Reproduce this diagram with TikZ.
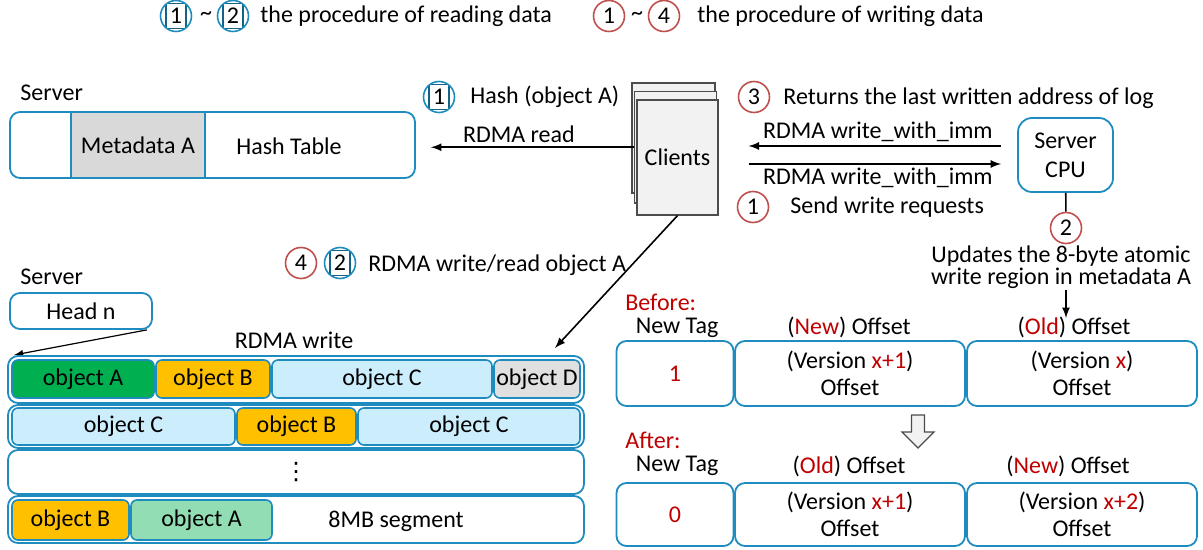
\documentclass[tikz,border=0pt]{standalone}
\usepackage{fontspec}
\setmainfont{Carlito}
\newfontfamily\symfont{DejaVu Sans}
\usepackage{tikz}
\usetikzlibrary{arrows,positioning}
\definecolor{boxblue}{RGB}{30,140,190}
\definecolor{markred}{RGB}{192,80,77}
\definecolor{txtred}{RGB}{192,0,0}
\definecolor{objgreen}{RGB}{0,176,80}
\definecolor{objorange}{RGB}{255,192,0}
\definecolor{objcyan}{RGB}{204,238,252}
\definecolor{objgray}{RGB}{224,224,224}
\definecolor{objmint}{RGB}{146,221,179}
\tikzstyle{box}=[draw=boxblue,line width=0.9pt,rounded corners=5pt,inner sep=0pt,align=center]
\tikzstyle{obj}=[draw=boxblue,line width=0.8pt,rounded corners=3pt,inner sep=0pt]
\tikzstyle{redmark}=[draw=markred,circle,line width=0.8pt,minimum size=15.5pt,inner sep=0pt]
\tikzstyle{bluemark}=[draw=boxblue,circle,line width=0.8pt,minimum size=15.5pt,inner sep=0pt,
  path picture={\draw[boxblue!70!black,line width=0.6pt] ([xshift=-5pt,yshift=-6.25pt]path picture bounding box.center) rectangle ++(10pt,12.5pt);}]
\tikzstyle{paper}=[draw=black!70,fill=black!5,line width=0.6pt,inner sep=0pt]
\tikzstyle{arr}=[-latex,line width=0.8pt]
\tikzstyle{lbl}=[inner sep=0pt]

\begin{document}
\begin{tikzpicture}[x=0.5pt,y=-0.5pt,font=\fontsize{12}{13.5}\selectfont]
\useasboundingbox (0,0) rectangle (1203,550);

% legend
\node [bluemark] (lgb1) at (176,16) {1};
\node [lbl] (lgt1) at (206,16) {\textasciitilde};
\node [bluemark] (lgb2) at (233,16) {2};
\node [lbl,anchor=west] (lgread) at (260,16) {the procedure of reading data};
\node [redmark] (lgr1) at (609,16) {1};
\node [lbl] (lgt2) at (637,16) {\textasciitilde};
\node [redmark] (lgr4) at (664,16) {4};
\node [lbl,anchor=west] (lgwrite) at (697,16) {the procedure of writing data};

% hash table
\node [lbl,anchor=west] (srv1) at (20,93) {Server};
\node [box,minimum width=202.5pt,minimum height=33pt] (hashtbl) at (212.5,145) {};
\node [draw=boxblue,line width=0.9pt,fill=black!15,minimum width=67pt,minimum height=33pt] (meta) at (138,145) {Metadata A};
\node [lbl] (hashtxt) at (289,146) {Hash Table};

% clients
\node [paper,minimum width=41.5pt,minimum height=55pt] (clientsb) at (673.5,138) {};
\node [paper,minimum width=41pt,minimum height=55.75pt] (clientsm) at (675.5,147.25) {};
\node [paper,minimum width=40.5pt,minimum height=57.5pt] (clientsf) at (677.5,157.5) {Clients};

\node [bluemark] (hb1) at (439,97) {1};
\node [lbl,anchor=west] (hashobj) at (470,97) {Hash (object A)};
\draw [arr,shorten >=7.5pt] (clientsm.west) -- (clientsm.west -| hashtbl.east)
  node [midway,above=2pt,lbl,xshift=-3pt] (rdread) {RDMA read};

% server cpu
\node [box,rounded corners=7pt,minimum width=47.5pt,minimum height=37pt] (cpu) at (1065.5,155) {Server\\[1pt]CPU};
\node [redmark] (r3) at (754,97) {3};
\node [lbl,anchor=west] (ret) at (783,98) {Returns the last written address of log};
\draw [arr,shorten <=8pt,shorten >=15pt] ([yshift=4.5pt]cpu.west) -- ([yshift=4.5pt]cpu.west -| clientsf.east)
  node [midway,above=1.5pt,lbl,xshift=5pt] (wimm1) {RDMA write\_with\_imm};
\draw [arr,shorten <=15pt,shorten >=8pt] ([yshift=-4.5pt]cpu.west -| clientsf.east) -- ([yshift=-4.5pt]cpu.west)
  node [midway,below=1.5pt,lbl,xshift=5pt] (wimm2) {RDMA write\_with\_imm};
\node [redmark] (r1) at (753,207) {1};
\node [lbl,anchor=west] (send) at (790,207) {Send write requests};

\node [redmark] (r2) at (1066,228) {2};
\draw [line width=0.8pt] (cpu) -- (r2);
\node [lbl,align=center,font=\fontsize{12}{11}\selectfont] (upd) at (1061,267) {Updates the 8-byte atomic\\write region in metadata A};
\coordinate (updtip) at (1066,318);
\draw [arr] (1066,290) -- (updtip);

% log segments
\node [lbl,anchor=west] (srv2) at (20,277) {Server};
\node [box,minimum width=71pt,minimum height=18pt] (head) at (81,311) {Head n};
\coordinate (headtip) at (14,355);
\draw [-latex,line width=0.6pt] ([xshift=-3pt]head.south east) -- (headtip);
\node [lbl] (rdwrite) at (294,340) {RDMA write};

\node [redmark] (r4) at (301,263) {4};
\node [bluemark] (b2) at (340,263) {2};
\node [lbl,anchor=west] (wrobj) at (368,265) {RDMA write/read object A};

\node [box,minimum width=288pt,minimum height=23.5pt] (row1) at (296,379.5) {};
\node [box,minimum width=288pt,minimum height=21.5pt] (row2) at (296,426.5) {};
\node [box,minimum width=288pt,minimum height=22pt] (row3) at (296,472) {{\symfont ⋮}};
\node [box,minimum width=288pt,minimum height=23.5pt] (row4) at (296,519.5) {};

\node [obj,fill=objgreen,minimum width=71pt,minimum height=19pt] (oa1) at (83,379) {object A};
\node [obj,fill=objorange,minimum width=57pt,minimum height=19pt] (ob1) at (213,379) {object B};
\node [obj,fill=objcyan,minimum width=110pt,minimum height=19pt] (oc1) at (382,379) {object C};
\node [obj,fill=objgray,minimum width=43pt,minimum height=19pt] (od1) at (537,379) {object D};

\node [obj,fill=objcyan,minimum width=111.5pt,minimum height=18.5pt] (oc2) at (123.5,426.5) {object C};
\node [obj,fill=objorange,minimum width=59.5pt,minimum height=18.5pt] (ob2) at (296.5,426.5) {object B};
\node [obj,fill=objcyan,minimum width=111pt,minimum height=18.5pt] (oc3) at (469,426.5) {object C};

\node [obj,fill=objorange,minimum width=58.5pt,minimum height=20pt] (ob4) at (70.5,520) {object B};
\node [obj,fill=objmint,minimum width=70.5pt,minimum height=20pt] (oa4) at (201.5,520) {object A};
\node [lbl] (seg) at (396,521) {8MB segment};

\coordinate (segtip) at (555,348);
\draw [arr] (clientsf.south) -- (segtip);

% metadata before / after
\node [lbl,anchor=west,text=txtred] (before) at (625,302) {Before:};
\node [lbl] (bt1) at (677,328) {New Tag};
\node [lbl] (bt2) at (849,327) {(\textcolor{txtred}{New}) Offset};
\node [lbl] (bt3) at (1074,327) {(\textcolor{txtred}{Old}) Offset};
\node [box,minimum width=58.5pt,minimum height=32.5pt] (bb1) at (675,373.5) {\textcolor{txtred}{1}};
\node [box,minimum width=115pt,minimum height=32.5pt] (bb2) at (850,373.5) {(Version \textcolor{txtred}{x+1})\\Offset};
\node [box,minimum width=115pt,minimum height=32.5pt] (bb3) at (1082,373.5) {(Version \textcolor{txtred}{x})\\Offset};

\draw [draw=black!70,fill=black!5,line width=0.6pt] (911.5,415) -- (924.5,415) -- (924.5,432) -- (934,432)
  -- (918,448) -- (902,432) -- (911.5,432) -- cycle;

\node [lbl,anchor=west,text=txtred] (after) at (625,440) {After:};
\node [lbl] (at1) at (677,466) {New Tag};
\node [lbl] (at2) at (849,466) {(\textcolor{txtred}{Old}) Offset};
\node [lbl] (at3) at (1068,466) {(\textcolor{txtred}{New}) Offset};
\node [box,minimum width=58.5pt,minimum height=31.5pt] (ab1) at (675,514.5) {\textcolor{txtred}{0}};
\node [box,minimum width=115pt,minimum height=31.5pt] (ab2) at (850,514.5) {(Version \textcolor{txtred}{x+1})\\Offset};
\node [box,minimum width=115pt,minimum height=31.5pt] (ab3) at (1082,514.5) {(Version \textcolor{txtred}{x+2})\\Offset};
\end{tikzpicture}
\end{document}
